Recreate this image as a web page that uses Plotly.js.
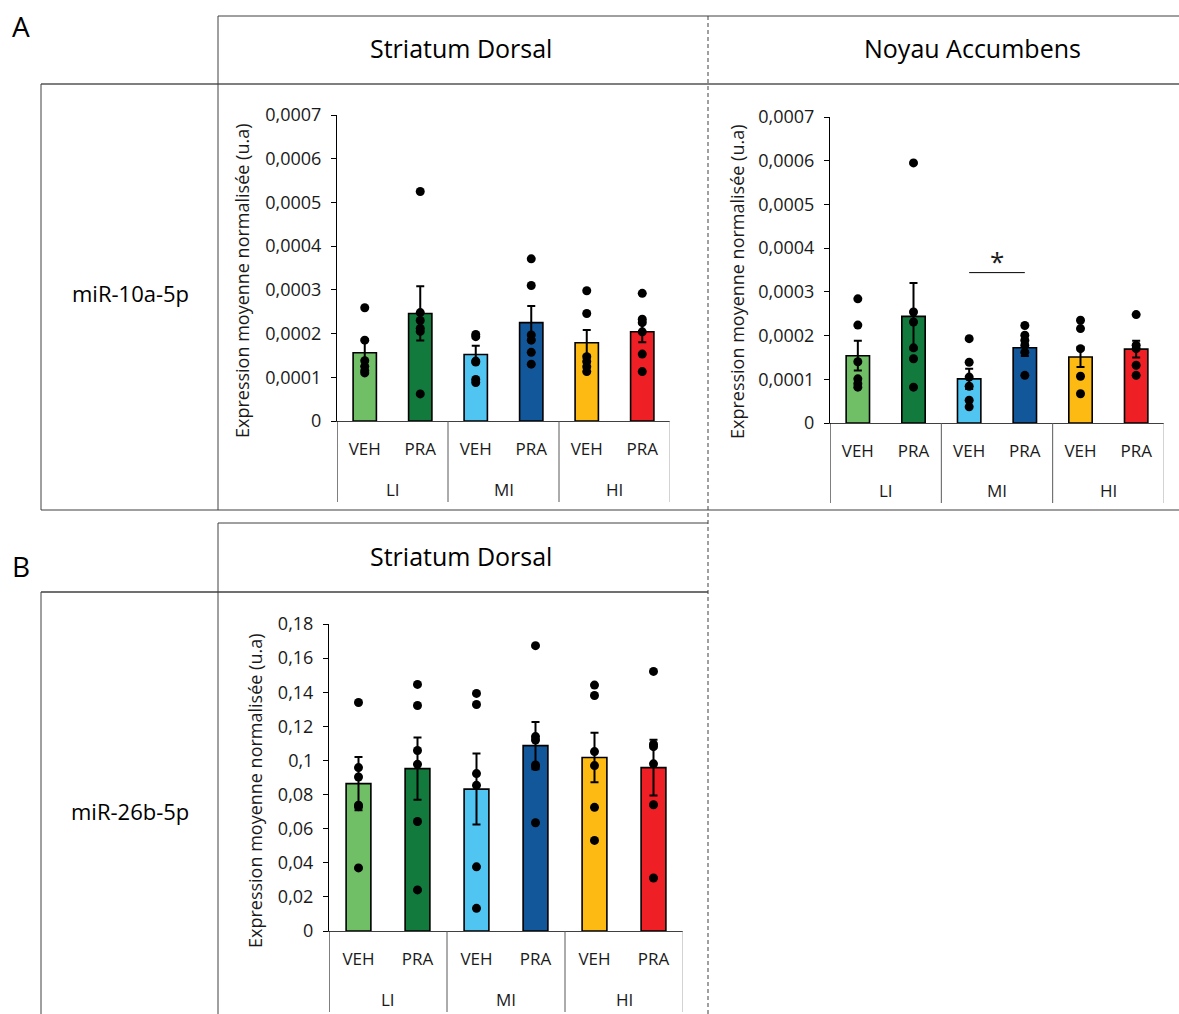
<!DOCTYPE html>
<html>
<head>
<meta charset="utf-8">
<script src="https://cdn.plot.ly/plotly-3.0.1.min.js"></script>
<style>html,body{margin:0;padding:0;background:#fff;}#chart{width:1179px;height:1014px;}</style>
</head>
<body>
<div id="chart"></div>
<script>
// ---------- DATA ----------
const treatments = ['VEH', 'PRA', 'VEH', 'PRA', 'VEH', 'PRA'];
const groups = ['LI', 'MI', 'HI'];
const barColors = ['#70BF67', '#127A3C', '#50C5F2', '#12579A', '#FDBA12', '#EE1F25'];
const yTitle = 'Expression moyenne normalisée (u.a)';

const yTicks10 = [0, 0.0001, 0.0002, 0.0003, 0.0004, 0.0005, 0.0006, 0.0007];
const yTickText10 = ['0', '0,0001', '0,0002', '0,0003', '0,0004', '0,0005', '0,0006', '0,0007'];
const yTicks26 = [0, 0.02, 0.04, 0.06, 0.08, 0.1, 0.12, 0.14, 0.16, 0.18];
const yTickText26 = ['0', '0,02', '0,04', '0,06', '0,08', '0,1', '0,12', '0,14', '0,16', '0,18'];

// miR-10a-5p, Striatum Dorsal
const sd10Means = [0.000156, 0.000246, 0.000152, 0.000225, 0.000179, 0.000204];
const sd10Sem = [0.000031, 0.000062, 0.000020, 0.000038, 0.000029, 0.000024];
const sd10Points = [
  [0.000259, 0.000185, 0.000138, 0.000125, 0.000115, 0.000110],
  [0.000525, 0.000248, 0.000230, 0.000212, 0.000205, 0.000062],
  [0.000198, 0.000193, 0.000137, 0.000135, 0.000095, 0.000088],
  [0.000371, 0.000310, 0.000197, 0.000185, 0.000157, 0.000130],
  [0.000298, 0.000246, 0.000147, 0.000136, 0.000124, 0.000113],
  [0.000292, 0.000233, 0.000225, 0.000204, 0.000153, 0.000113]
];

// miR-10a-5p, Noyau Accumbens
const na10Means = [0.000154, 0.000244, 0.000101, 0.000172, 0.000151, 0.000169];
const na10Sem = [0.000034, 0.000076, 0.000023, 0.000019, 0.000023, 0.000019];
const na10Points = [
  [0.000284, 0.000224, 0.000140, 0.000101, 0.000090, 0.000082],
  [0.000595, 0.000254, 0.000231, 0.000172, 0.000147, 0.000082],
  [0.000193, 0.000139, 0.000105, 0.000084, 0.000052, 0.000037],
  [0.000223, 0.000201, 0.000189, 0.000178, 0.000162, 0.000109],
  [0.000235, 0.000216, 0.000170, 0.000107, 0.000067],
  [0.000248, 0.000178, 0.000170, 0.000132, 0.000109]
];
const na10Signif = {from: 2, to: 3, y: 0.000344, label: '*'};

// miR-26b-5p, Striatum Dorsal
const sd26Means = [0.0864, 0.0952, 0.0832, 0.1087, 0.1017, 0.0958];
const sd26Sem = [0.0156, 0.0182, 0.0208, 0.0138, 0.0145, 0.0164];
const sd26Points = [
  [0.134, 0.0958, 0.0903, 0.0738, 0.0729, 0.037],
  [0.1446, 0.1322, 0.1058, 0.0977, 0.0642, 0.0241],
  [0.1393, 0.1328, 0.0923, 0.0854, 0.0376, 0.0133],
  [0.1673, 0.114, 0.112, 0.0973, 0.0964, 0.0635],
  [0.1442, 0.1381, 0.1052, 0.097, 0.0725, 0.0531],
  [0.1522, 0.1095, 0.1081, 0.098, 0.074, 0.0311]
];

// ---------- HELPERS ----------
const W = 1179, H = 1014;
const px = x => x / W;
const py = y => 1 - y / H;
const idx = treatments.map((_, i) => i);
const FONT = 'Open Sans, sans-serif';
const TXT = '#1a1a1a';

function makeTraces(means, sem, points, xa, ya) {
  const bar = {
    type: 'bar', x: idx, y: means, xaxis: xa, yaxis: ya,
    marker: {color: barColors, line: {color: '#000', width: 1.6}},
    error_y: {type: 'data', array: sem, visible: true, color: '#000', thickness: 2, width: 4},
    hoverinfo: 'y', showlegend: false
  };
  const xs = [], ys = [];
  points.forEach((arr, i) => arr.forEach(v => { xs.push(i); ys.push(v); }));
  const pts = {
    type: 'scatter', mode: 'markers', x: xs, y: ys, xaxis: xa, yaxis: ya,
    marker: {color: '#000', size: 9}, hoverinfo: 'y', showlegend: false
  };
  return [bar, pts];
}

function xAxis(x0, x1, anchor) {
  return {
    domain: [px(x0), px(x1)], anchor: anchor, range: [-0.5, 5.5],
    tickvals: idx, ticktext: treatments, ticks: '', ticklabelstandoff: 13,
    showline: true, linecolor: '#404040', linewidth: 1,
    showgrid: false, zeroline: false, fixedrange: true,
    tickfont: {family: FONT, size: 17, color: TXT}
  };
}
function yAxis(y0, y1, anchor, range, tv, tt) {
  return {
    domain: [py(y1), py(y0)], anchor: anchor, range: range,
    tickvals: tv, ticktext: tt, ticks: 'outside', ticklen: 5, tickcolor: '#000',
    ticklabelstandoff: 6,
    showline: true, linecolor: '#000', linewidth: 1,
    showgrid: false, zeroline: false, fixedrange: true,
    tickfont: {family: FONT, size: 18, color: TXT}
  };
}

const data = [
  ...makeTraces(sd10Means, sd10Sem, sd10Points, 'x', 'y'),
  ...makeTraces(na10Means, na10Sem, na10Points, 'x2', 'y2'),
  ...makeTraces(sd26Means, sd26Sem, sd26Points, 'x3', 'y3')
];

// chart frames in pixels: [xAxisRef, axisBottomPx, groupBottomPx]
const charts = [['x', 421, 502], ['x2', 423, 503], ['x3', 931, 1012]];

const shapes = [];
const annotations = [];
function pline(x0, y0, x1, y1, color, width, dash) {
  shapes.push({type: 'line', xref: 'paper', yref: 'paper', x0: px(x0), y0: py(y0), x1: px(x1), y1: py(y1),
               line: {color: color, width: width, dash: dash || 'solid'}});
}

charts.forEach(([xa, yb, ybot]) => {
  // group separators
  [-0.5, 1.5, 3.5, 5.5].forEach((xv, k) => {
    shapes.push({type: 'line', xref: xa, yref: 'paper', x0: xv, x1: xv, y0: py(yb), y1: py(ybot),
                 line: {color: k === 0 ? '#000' : (k === 3 ? '#a6a6a6' : '#595959'), width: 1}});
  });
  groups.forEach((g, gi) => {
    annotations.push({xref: xa, yref: 'paper', x: gi * 2 + 0.5, y: py(yb + 68), text: g, showarrow: false,
                      yanchor: 'middle', font: {family: FONT, size: 17, color: TXT}});
  });
});

// significance bar
shapes.push({type: 'line', xref: 'x2', yref: 'y2', x0: na10Signif.from, x1: na10Signif.to,
             y0: na10Signif.y, y1: na10Signif.y, line: {color: '#000', width: 1}});
annotations.push({xref: 'x2', yref: 'y2', x: (na10Signif.from + na10Signif.to) / 2, y: na10Signif.y,
                  yanchor: 'bottom', yshift: -8, text: na10Signif.label, showarrow: false,
                  font: {family: FONT, size: 26, color: TXT}});

// table frame
const FR = '#404040', FR2 = '#7f7f7f';
pline(218, 16, 1179, 16, FR, 1);
pline(41, 84, 1179, 84, FR2, 2);
pline(41, 510, 1179, 510, FR2, 1.5);
pline(41, 84, 41, 510, FR, 1);
pline(218, 16, 218, 510, FR, 1);
pline(708, 16, 708, 1014, FR, 1, '4px,3px');
pline(218, 523, 708, 523, FR, 1);
pline(41, 592, 708, 592, FR, 1.5);
pline(218, 523, 218, 1014, FR, 1);
pline(41, 592, 41, 1014, FR, 1);

function ptext(x, y, text, size, angle, color) {
  annotations.push({xref: 'paper', yref: 'paper', x: px(x), y: py(y), text: text, showarrow: false,
                    xanchor: 'center', yanchor: 'middle', textangle: angle || 0,
                    font: {family: FONT, size: size, color: color || '#000'}});
}
ptext(21, 26, 'A', 28);
ptext(21, 566, 'B', 28);
ptext(461, 48, 'Striatum Dorsal', 25);
ptext(972, 48, 'Noyau Accumbens', 25);
ptext(461, 556, 'Striatum Dorsal', 25);
ptext(130, 293, 'miR-10a-5p', 22);
ptext(130, 811, 'miR-26b-5p', 22);
// y-axis titles
ptext(242, 281, yTitle, 18, -90, TXT);
ptext(737, 282, yTitle, 18, -90, TXT);
ptext(255, 791, yTitle, 18, -90, TXT);

const layout = {
  width: W, height: H, margin: {l: 0, r: 0, t: 0, b: 0},
  paper_bgcolor: '#fff', plot_bgcolor: 'rgba(0,0,0,0)',
  bargap: 0.58, showlegend: false,
  font: {family: FONT, color: TXT},
  xaxis: xAxis(337, 670, 'y'),
  yaxis: yAxis(115, 421, 'x', [0, 0.0007], yTicks10, yTickText10),
  xaxis2: xAxis(830, 1164, 'y2'),
  yaxis2: yAxis(117, 423, 'x2', [0, 0.0007], yTicks10, yTickText10),
  xaxis3: xAxis(329, 683, 'y3'),
  yaxis3: yAxis(624, 931, 'x3', [0, 0.18], yTicks26, yTickText26),
  shapes: shapes, annotations: annotations
};

Plotly.newPlot('chart', data, layout, {displayModeBar: false, staticPlot: true});
</script>
</body>
</html>
